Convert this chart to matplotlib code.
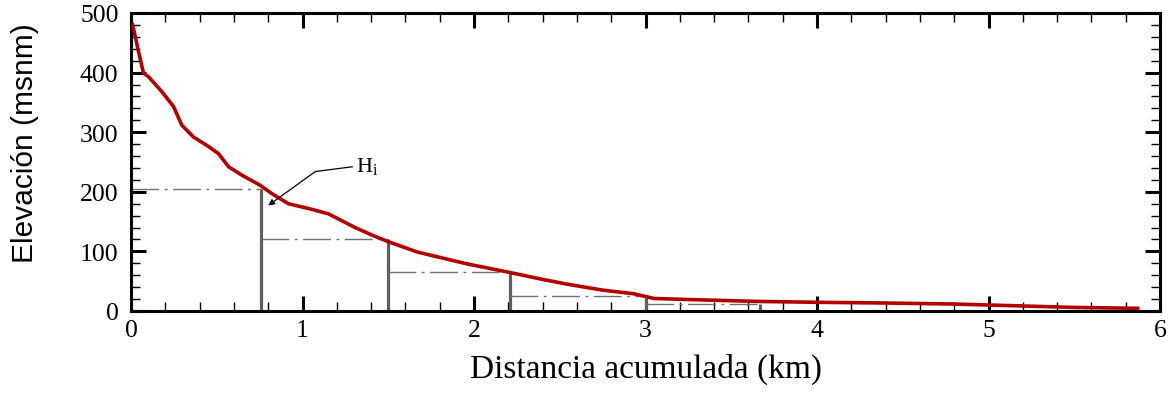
import matplotlib.pyplot as plt
from matplotlib.ticker import MultipleLocator

# Perfil longitudinal: distancia (km) vs elevacion (msnm)
dist_km = [0.01, 0.04, 0.073, 0.102, 0.18, 0.248, 0.296, 0.364, 0.452, 0.51,
           0.569, 0.646, 0.753, 0.821, 0.918, 1.035, 1.152, 1.30, 1.40, 1.503,
           1.669, 1.96, 2.203, 2.40, 2.543, 2.75, 2.93, 3.05, 3.28, 3.67,
           4.0, 4.37, 4.78, 5.13, 5.50, 5.87]
elev_m = [480, 440, 399, 393, 368, 343, 312, 292, 276, 264,
          242, 228, 211, 197, 180, 172, 163, 141, 128, 116,
          99, 79, 65, 53, 45, 35, 29, 21, 19, 16,
          14.6, 13.5, 11.8, 9, 6, 4.5]

# Tramos H_i: posicion de cada vertical y su altura
tramo_x = [0.0, 0.76, 1.50, 2.21, 3.00, 3.67]
tramo_h = [205, 120, 65, 26, 12]

# Anotacion H_i
label_xy = (1.29, 242)
codo_xy = (1.075, 234)
punta_xy = (0.80, 177)

plt.rcParams['font.family'] = ['Liberation Serif', 'DejaVu Serif']
plt.rcParams['mathtext.fontset'] = 'stix'

fig = plt.figure(figsize=(11.69, 4.02), dpi=100)
ax = fig.add_axes([131 / 1169, 1 - 312 / 402, 1029 / 1169, 298 / 402])

# lineas horizontales punteadas y verticales de cada tramo
for i, h in enumerate(tramo_h):
    ax.plot([tramo_x[i], tramo_x[i + 1]], [h, h], color='#707070', lw=1,
            dashes=(20, 4, 2, 4), zorder=2)
    ax.plot([tramo_x[i + 1], tramo_x[i + 1]], [0, h], color='#5f5f5f', lw=2.3,
            solid_capstyle='butt', zorder=2)

ax.plot(dist_km, elev_m, color='#b30000', lw=2.6, zorder=3,
        solid_joinstyle='round')

# anotacion
ax.plot([label_xy[0], codo_xy[0]], [label_xy[1], codo_xy[1]], color='black', lw=0.9, zorder=4)
ax.annotate('', xy=punta_xy, xytext=codo_xy,
            arrowprops=dict(arrowstyle='-|>', color='black', lw=0.9, mutation_scale=9,
                            shrinkA=0, shrinkB=0), zorder=4)
ax.text(label_xy[0] + 0.02, label_xy[1] + 2, r'$\mathregular{H_i}$', fontsize=16,
        ha='left', va='center', zorder=4)

ax.set_xlim(0, 6)
ax.set_ylim(0, 500)
ax.xaxis.set_major_locator(MultipleLocator(1))
ax.xaxis.set_minor_locator(MultipleLocator(0.2))
ax.yaxis.set_major_locator(MultipleLocator(100))
ax.yaxis.set_minor_locator(MultipleLocator(20))
ax.tick_params(which='both', direction='in', top=True, right=True)
ax.tick_params(which='major', length=11, width=2.2, labelsize=18.5)
ax.tick_params(which='minor', length=6.5, width=1)
ax.tick_params(axis='y', which='major', pad=9)
ax.tick_params(axis='x', which='major', pad=6)
for s in ax.spines.values():
    s.set_linewidth(2.2)

ax.set_xlabel('Distancia acumulada (km)', fontsize=24, labelpad=8)
ax.set_ylabel('Elevación (msnm)', fontsize=21.5, family=['Liberation Sans', 'DejaVu Sans'])
ax.yaxis.set_label_coords(-0.089, 0.567)

fig.savefig('out.png', dpi=100)
